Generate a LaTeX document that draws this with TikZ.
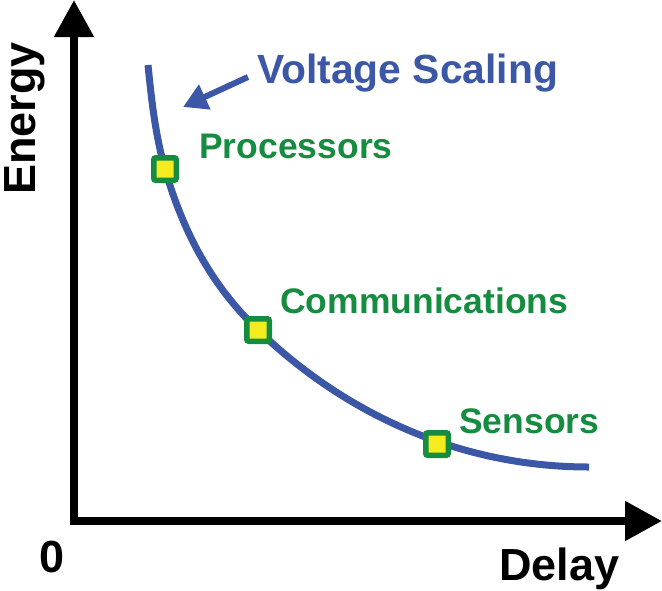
\documentclass[tikz,border=0pt]{standalone}
\usepackage{fontspec}
\setmainfont{Liberation Sans}
\usetikzlibrary{arrows.meta}

\definecolor{curveblue}{HTML}{3B57A6}
\definecolor{markgreen}{HTML}{168C40}
\definecolor{markyellow}{HTML}{F5EC1F}

\begin{document}
\begin{tikzpicture}[x=1pt,y=-1pt,
  axis/.style={line width=8pt,line join=miter,
    {Triangle[length=37pt,width=38pt]}-{Triangle[length=37pt,width=38pt]}},
  curve/.style={draw=curveblue,line width=7pt},
  pointbox/.style={draw=markgreen,fill=markyellow,line width=5.5pt,
    minimum size=22.5pt,inner sep=0pt,rounded corners=2pt},
  pointlabel/.style={text=markgreen,anchor=base west,inner sep=0pt,
    font=\bfseries\fontsize{35.5}{35.5}\selectfont},
  axislabel/.style={anchor=base west,inner sep=0pt,
    font=\bfseries\fontsize{45}{45}\selectfont}]

  \useasboundingbox (0,0) rectangle (662,590);

  %% axes
  \coordinate (origin) at (74,521);
  \coordinate (ytip) at (74,0);
  \coordinate (xtip) at (662,521);
  \draw[axis] (ytip) -- (origin) -- (xtip);

  \node[axislabel,rotate=90] (energy) at (35,195) {Energy};
  \node[axislabel] (zero) at (39,572) {0};
  \node[axislabel] (delay) at (499,580) {Delay};

  %% trade-off curve
  \draw[curve] (148,65) .. controls (151.5,100) and (155.4,135.4) .. (165,169)
    .. controls (182.9,231.4) and (211.2,285.2) .. (258,330)
    .. controls (344,413) and (459,467) .. (589,467);

  %% voltage scaling
  \node[text=curveblue,anchor=base west,inner sep=0pt,
    font=\bfseries\fontsize{40.8}{40.8}\selectfont] (vscale) at (257,83) {Voltage Scaling};
  \coordinate (vtail) at (248,77);
  \coordinate (vtip) at (183,107);
  \draw[draw=curveblue,fill=curveblue,line width=6pt,
    -{Triangle[length=24pt,width=26pt]}] (vtail) -- (vtip);

  %% operating points
  \node[pointbox] (proc) at (165,169) {};
  \node[pointbox] (comm) at (258,330) {};
  \node[pointbox] (sens) at (437,444) {};

  \node[pointlabel] (lproc) at (199,158) {Processors};
  \node[pointlabel] (lcomm) at (280,313) {Communications};
  \node[pointlabel] (lsens) at (459,433) {Sensors};

\end{tikzpicture}
\end{document}
